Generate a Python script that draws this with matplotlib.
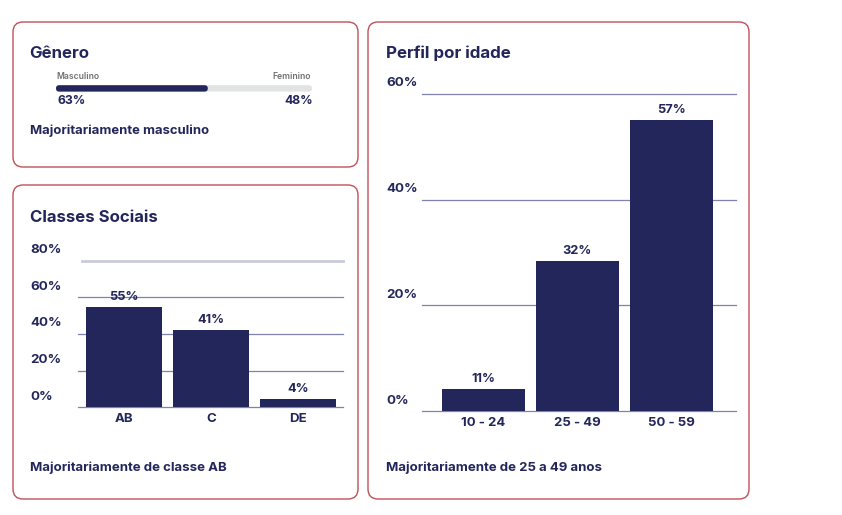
import matplotlib
matplotlib.use("Agg")
import matplotlib.pyplot as plt
import matplotlib.transforms as mtransforms
from matplotlib.patches import FancyBboxPatch

plt.rcParams['font.family'] = ['Inter', 'DejaVu Sans']

# data
gender_names = ['Masculino', 'Feminino']
gender_labels = ['63%', '48%']
gender_fill = 0.593          # share of the track drawn in navy

classes = ['AB', 'C', 'DE']
classes_bar = [54.5, 42.0, 4.4]
classes_labels = ['55%', '41%', '4%']
classes_ticks = [0, 20, 40, 60, 80]

ages = ['10 - 24', '25 - 49', '50 - 59']
ages_bar = [4.1, 28.4, 55.1]
ages_labels = ['11%', '32%', '57%']
ages_ticks = [0, 20, 40, 60]

NAVY = '#22265a'
BORDER = '#c0505a'
GRID = '#7d83ad'
W, H = 842, 515

fig = plt.figure(figsize=(W / 100, H / 100), dpi=100)

# background axes in pixel coordinates, for panels and free text
bg = fig.add_axes([0, 0, 1, 1])
bg.set_xlim(0, W)
bg.set_ylim(H, 0)
bg.axis('off')


def panel(x0, y0, x1, y1):
    bg.add_patch(FancyBboxPatch((x0, y0), x1 - x0, y1 - y0,
                                boxstyle='round,pad=0,rounding_size=10',
                                fc='white', ec=BORDER, lw=1.0))


def px_axes(x0, y0, x1, y1):
    return fig.add_axes([x0 / W, 1 - y1 / H, (x1 - x0) / W, (y1 - y0) / H])


panel(13, 22, 358, 167)
panel(13, 185, 358, 499)
panel(368, 22, 749, 499)

# Gênero panel
bg.text(29.5, 54, 'Gênero', fontsize=12.1, fontweight='bold', color=NAVY, va='center')
bg.text(56, 76.5, gender_names[0], fontsize=6.2, fontweight='semibold', color='#707070', va='center')
bg.text(311, 76.5, gender_names[1], fontsize=6.2, fontweight='semibold', color='#707070',
        va='center', ha='right')
track_x0, track_x1 = 56, 312
bg.add_patch(FancyBboxPatch((track_x0, 85.2), track_x1 - track_x0, 6.4,
                            boxstyle='round,pad=0,rounding_size=3.2',
                            fc='#e2e3e3', ec='none'))
bg.add_patch(FancyBboxPatch((track_x0, 85.2), (track_x1 - track_x0) * gender_fill, 6.4,
                            boxstyle='round,pad=0,rounding_size=3.2',
                            fc=NAVY, ec='none'))
bg.text(57.5, 101.5, gender_labels[0], fontsize=8.8, fontweight='bold', color=NAVY, va='center')
bg.text(313, 101.5, gender_labels[1], fontsize=8.8, fontweight='bold', color=NAVY,
        va='center', ha='right')
bg.text(29.5, 131, 'Majoritariamente masculino', fontsize=9.4, fontweight='bold',
        color=NAVY, va='center')


def bar_chart(ax, cats, vals, labels, ticks, width, xlim, label_x, top_start=None):
    ax.set_xlim(*xlim)
    ax.set_ylim(ticks[0], ticks[-1])
    for t in ticks:
        if top_start is not None and t == ticks[-1]:
            ax.axhline(t, xmin=top_start, color='#c9cbdc', lw=2.0, zorder=0, clip_on=False)
        else:
            ax.axhline(t, color=GRID, lw=0.9, zorder=0, clip_on=False)
    ax.bar(range(len(cats)), vals, width=width, color=NAVY, zorder=2)
    ax.set_xticks(range(len(cats)), cats)
    ax.set_yticks([])
    ax.tick_params(axis='x', length=0, pad=4, labelsize=9.5, labelcolor=NAVY)
    for lab in ax.get_xticklabels():
        lab.set_fontweight('bold')
    for s in ax.spines.values():
        s.set_visible(False)
    ax.patch.set_alpha(0)
    # value labels above bars
    up = mtransforms.offset_copy(ax.transData, fig=fig, y=10, units='dots')
    for i, (v, lab) in enumerate(zip(vals, labels)):
        ax.text(i, v, lab, transform=up, ha='center', va='center',
                fontsize=9.2, fontweight='bold', color=NAVY)
    # y labels, left aligned, sitting above the gridlines
    ytr = mtransforms.offset_copy(
        mtransforms.blended_transform_factory(bg.transData, ax.transData),
        fig=fig, y=10.5, units='dots')
    for t in ticks:
        ax.text(label_x, t, f'{t}%', transform=ytr, ha='left', va='center',
                fontsize=9.6, fontweight='bold', color=NAVY, clip_on=False)


# Classes Sociais panel
bg.text(29.5, 218, 'Classes Sociais', fontsize=12.1, fontweight='bold', color=NAVY, va='center')
ax1 = px_axes(78, 260.7, 343, 407.3)
bar_chart(ax1, classes, classes_bar, classes_labels, classes_ticks,
          0.875, (-0.531, 2.515), 30.5, top_start=0.014)
bg.text(29.5, 468, 'Majoritariamente de classe AB', fontsize=9.5, fontweight='bold',
        color=NAVY, va='center')

# Perfil por idade panel
bg.text(386.5, 53, 'Perfil por idade', fontsize=12.2, fontweight='bold', color=NAVY, va='center')
ax2 = px_axes(421.7, 94, 735.7, 411)
bar_chart(ax2, ages, ages_bar, ages_labels, ages_ticks,
          0.88, (-0.654, 2.686), 386.5)
bg.text(386.5, 468, 'Majoritariamente de 25 a 49 anos', fontsize=9.5, fontweight='bold',
        color=NAVY, va='center')

fig.savefig('out.png', dpi=100, facecolor='white')
